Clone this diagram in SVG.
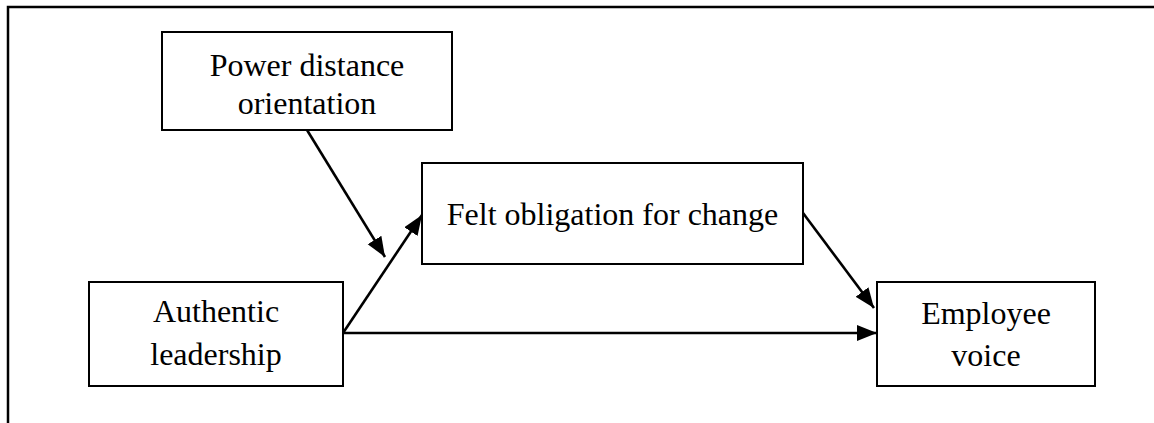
<svg xmlns="http://www.w3.org/2000/svg" width="1154" height="423" viewBox="0 0 1154 423">
<defs>
<style>
.box{fill:#fff;stroke:#000;stroke-width:2}
.t{font-family:"Liberation Serif","Times New Roman",serif;font-size:32px;fill:#000;text-anchor:middle}
.c{stroke:#000;stroke-width:2.6;fill:none}
</style>
<marker id="ah" markerUnits="userSpaceOnUse" markerWidth="22" markerHeight="18" refX="20" refY="8" orient="auto">
<path d="M0,0 L20,8 L0,16 z" fill="#000"/>
</marker>
</defs>
<rect width="1154" height="423" fill="#fff"/>
<g id="frame">
<path d="M8,423 L8,7 L1154,7" fill="none" stroke="#000" stroke-width="2.5"/>
</g>
<g id="connectors">
<line class="c" x1="307" y1="130" x2="385" y2="257" marker-end="url(#ah)"/>
<line class="c" x1="343" y1="333" x2="422" y2="215" marker-end="url(#ah)"/>
<line class="c" x1="343" y1="333" x2="877" y2="333" marker-end="url(#ah)"/>
<line class="c" x1="803" y1="213" x2="874" y2="308" marker-end="url(#ah)"/>
</g>
<g id="power">
<rect class="box" x="162" y="32" width="290" height="98"/>
<text class="t" x="307" y="76">Power distance</text>
<text class="t" x="307" y="114">orientation</text>
</g>
<g id="felt">
<rect class="box" x="422" y="163" width="381" height="101"/>
<text class="t" x="612.5" y="225">Felt obligation for change</text>
</g>
<g id="authentic">
<rect class="box" x="89" y="282" width="254" height="104"/>
<text class="t" x="216" y="322">Authentic</text>
<text class="t" x="216" y="365">leadership</text>
</g>
<g id="employee">
<rect class="box" x="877" y="282" width="218" height="104"/>
<text class="t" x="986" y="324">Employee</text>
<text class="t" x="986" y="366">voice</text>
</g>
</svg>
